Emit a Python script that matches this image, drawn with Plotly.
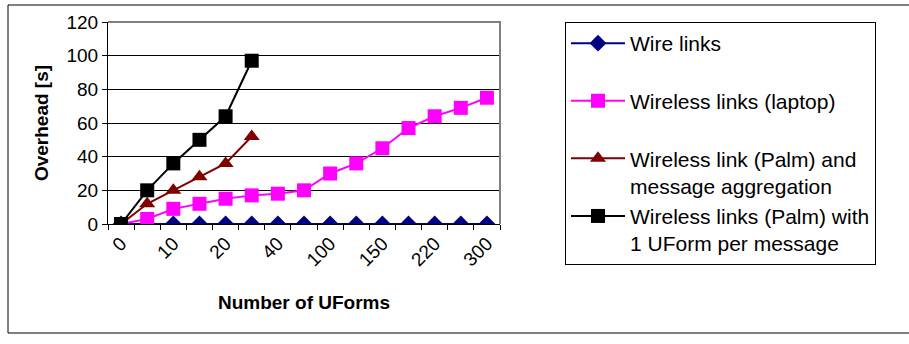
import plotly.graph_objects as go

# Categories (number of UForms); only every other label is shown on the axis
categories = ["0", "5", "10", "15", "20", "30", "40", "50", "100", "120", "150", "200", "220", "250", "300"]

wire_links = [0, 0, 0, 0, 0, 0, 0, 0, 0, 0, 0, 0, 0, 0, 0]
wireless_laptop = [0, 3, 9, 12, 15, 17, 18, 20, 30, 36, 45, 57, 64, 69, 75]
palm_aggregation = [0, 12, 20, 28, 36, 52]
palm_single = [0, 20, 36, 50, 64, 97]

series_names = [
    "Wire links<br> ",
    "Wireless links (laptop)<br> ",
    "Wireless link (Palm) and<br>message aggregation",
    "Wireless links (Palm) with<br>1 UForm per message",
]

FONT = "Arial, Liberation Sans, sans-serif"

idx = list(range(len(categories)))

fig = go.Figure()
fig.add_trace(go.Scatter(
    x=idx[:len(wire_links)], y=wire_links, name=series_names[0], mode="lines+markers",
    line=dict(color="#000080", width=2),
    marker=dict(symbol="diamond", size=13, color="#000080"),
    legendgroup="a",
))
fig.add_trace(go.Scatter(
    x=idx[:len(wireless_laptop)], y=wireless_laptop, name=series_names[1], mode="lines+markers",
    line=dict(color="#FF00FF", width=2),
    marker=dict(symbol="square", size=14, color="#FF00FF"),
    legendgroup="b",
))
fig.add_trace(go.Scatter(
    x=idx[:len(palm_aggregation)], y=palm_aggregation, name=series_names[2], mode="lines+markers",
    line=dict(color="#800000", width=2),
    marker=dict(symbol="triangle-up", size=14, color="#800000"),
    legendgroup="c",
))
fig.add_trace(go.Scatter(
    x=idx[:len(palm_single)], y=palm_single, name=series_names[3], mode="lines+markers",
    line=dict(color="#000000", width=2),
    marker=dict(symbol="square", size=14, color="#000000"),
    legendgroup="d",
))

L, R, T, B = 108, 409, 22, 120
W, H = 909, 344
pw, ph = W - L - R, H - T - B

fig.update_layout(
    width=W, height=H,
    margin=dict(l=L, r=R, t=T, b=B, pad=0, autoexpand=False),
    paper_bgcolor="white", plot_bgcolor="white",
    font=dict(family=FONT, color="black", size=18),
    showlegend=True,
    legend=dict(
        x=(565 - L) / pw, y=1.0, xanchor="left", yanchor="top",
        bordercolor="black", borderwidth=1, bgcolor="white",
        font=dict(family=FONT, size=21, color="black"),
        valign="top", tracegroupgap=0, traceorder="normal",
        itemwidth=54, maxheight=300,
    ),
    xaxis=dict(
        range=[-0.5, len(categories) - 0.5], automargin=False,
        tickmode="array", tickvals=idx[::2], ticktext=categories[::2],
        tickangle=-45, ticks="", showgrid=False, zeroline=False,
        showline=True, linecolor="black", linewidth=1,
        tickfont=dict(size=19),
        minor=dict(tick0=-0.5, dtick=1, ticks="outside", ticklen=5, tickcolor="black", showgrid=False),
        title=dict(text="<b>Number of UForms</b>", font=dict(size=19), standoff=26),
    ),
    yaxis=dict(
        range=[0, 120], dtick=20, tick0=0, automargin=False,
        showgrid=True, gridcolor="black", gridwidth=1,
        zeroline=False, showline=True, linecolor="black", linewidth=1,
        ticks="outside", ticklen=5, tickcolor="black",
        tickfont=dict(size=19),
        title=dict(text="<b>Overhead [s]</b>", font=dict(size=19), standoff=12),
    ),
    shapes=[
        dict(type="path", xref="paper", yref="paper", path="M0,1 L1,1 L1,0",
             line=dict(color="#808080", width=2), layer="above"),
        dict(type="rect", xref="paper", yref="paper",
             x0=(8 - L) / pw, x1=(W + 20 - L) / pw,
             y0=-(333 - (T + ph)) / ph, y1=1 + (T - 5) / ph,
             line=dict(color="black", width=1), layer="below"),
    ],
)

fig.write_html(
    "out.html",
    config={"displayModeBar": False},
    post_script="document.body.style.margin='0';document.body.style.overflow='hidden';",
)
